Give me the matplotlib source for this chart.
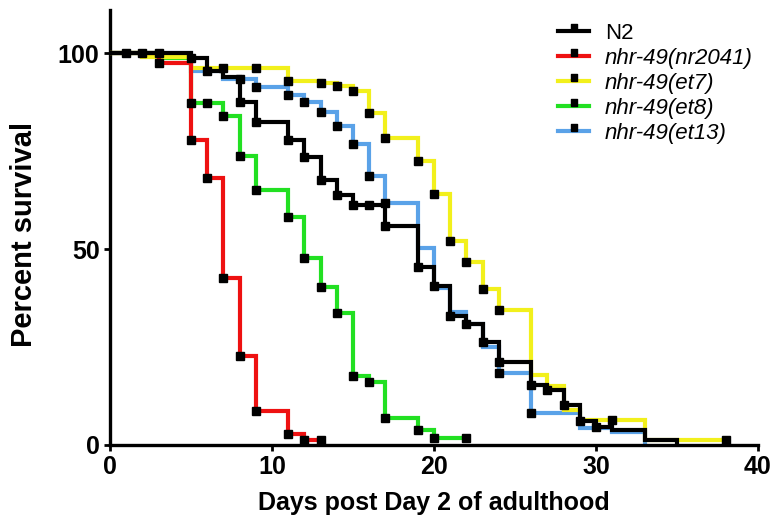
import numpy             as np
import matplotlib
matplotlib.use("Agg")
import matplotlib.pyplot as plt
from   matplotlib.lines  import Line2D
from   matplotlib.path   import Path


# ---- survival data (day, percent alive after that day) ----
labels = ["N2", "nhr-49(nr2041)", "nhr-49(et7)", "nhr-49(et8)", "nhr-49(et13)"]

n2_days   = [0, 5, 6, 7, 8, 9, 11, 12, 13, 14, 15, 17, 19, 20, 21, 22, 23, 24, 26, 27, 28, 29, 30, 31, 33, 35]
n2_surv   = [100, 98.8, 95.4, 94.0, 87.5, 82.5, 77.9, 73.5, 67.7, 63.9, 61.3, 55.8, 45.4, 40.5, 32.8, 31.0,
             26.4, 21.3, 15.3, 14.0, 10.2, 6.0, 4.7, 3.8, 1.3, 0]
n2_end    = 35
n2_cens   = [1, 2, 3, 5, 6, 8, 9, 11, 12, 13, 14, 15, 16, 17, 19, 20, 21, 22, 23, 24, 26, 27, 28, 29, 30]

nr_days   = [0, 3, 5, 6, 7, 8, 9, 11, 12]
nr_surv   = [100, 97.5, 77.8, 68.2, 42.6, 22.7, 8.6, 2.8, 1.4]
nr_end    = 13
nr_cens   = [3, 5, 6, 7, 8, 9, 11, 12, 13]

et7_days  = [0, 2, 5, 11, 13, 14, 15, 16, 17, 19, 20, 21, 22, 23, 24, 26, 27, 28, 29, 33]
et7_surv  = [100, 99.0, 96.2, 93.0, 92.3, 91.5, 90.3, 84.8, 78.4, 72.4, 64.0, 52.0, 46.6, 39.8, 34.5,
             17.9, 15.0, 8.9, 6.4, 1.3]
et7_end   = 38
et7_cens  = [7, 9, 11, 13, 14, 15, 16, 17, 19, 20, 21, 22, 23, 24, 31, 38]

et8_days  = [0, 3, 5, 7, 8, 9, 11, 12, 13, 14, 15, 16, 17, 19, 20]
et8_surv  = [100, 98.7, 87.3, 84.0, 73.7, 65.0, 58.3, 47.7, 40.4, 33.8, 17.5, 16.0, 6.8, 3.8, 1.8]
et8_end   = 22
et8_cens  = [5, 6, 7, 8, 9, 11, 12, 13, 14, 15, 16, 17, 19, 20, 22]

et13_days = [0, 5, 7, 9, 11, 12, 13, 14, 15, 16, 17, 19, 20, 21, 22, 23, 24, 26, 29, 31, 33]
et13_surv = [100, 95.5, 93.3, 91.3, 89.4, 87.5, 84.9, 81.4, 76.8, 68.7, 61.7, 50.2, 40.1, 34.0, 30.8,
             25.1, 18.3, 8.1, 4.3, 3.2, 0]
et13_end  = 33
et13_cens = [8, 9, 11, 12, 13, 14, 15, 16, 17, 24, 26]

colors = ["#000000", "#ee1111", "#f2f01c", "#22e022", "#5aa2e8"]


curves = [(n2_days, n2_surv, n2_end, n2_cens),
          (nr_days, nr_surv, nr_end, nr_cens),
          (et7_days, et7_surv, et7_end, et7_cens),
          (et8_days, et8_surv, et8_end, et8_cens),
          (et13_days, et13_surv, et13_end, et13_cens)]

plt.rcParams['font.family'] = ['Liberation Sans', 'DejaVu Sans']

fig = plt.figure(figsize=(7.77, 5.27), dpi=100)
ax  = fig.add_axes([110/777, 1 - 445/527, 648/777, 435/527])

# draw order: blue, green, yellow, red, black on top
for i in [4, 3, 2, 1, 0]:
    days, surv, end, cens = curves[i]
    x = list(days) + [end]
    y = list(surv) + [surv[-1]]
    ax.step(x, y, where='post', color=colors[i], linewidth=3.0,
            solid_joinstyle='miter', zorder=2 + (4 - i))
    idx = np.searchsorted(days, cens, side='right') - 1
    ax.plot(cens, np.array(surv)[idx], 's', color='k', markersize=5.5,
            linestyle='none', zorder=10)

ax.set_xlim(0, 40)
ax.set_ylim(0, 111)
ax.set_xticks([0, 10, 20, 30, 40])
ax.set_yticks([0, 50, 100])

for s in ['top', 'right']:
    ax.spines[s].set_visible(False)
for s in ['left', 'bottom']:
    ax.spines[s].set_linewidth(2.4)
ax.tick_params(direction='out', length=4.5, width=2.0, labelsize=18, pad=3)
for t in ax.get_xticklabels() + ax.get_yticklabels():
    t.set_fontweight('bold')

ax.set_xlabel("Days post Day 2 of adulthood", fontsize=18, fontweight='bold', labelpad=8)
ax.set_ylabel("Percent survival", fontsize=21, fontweight='bold')
ax.yaxis.set_label_coords(-0.111, 0.483)

# legend handles: line with the censor square sitting on top
box = Path([(-0.5, 0), (0.5, 0), (0.5, 1), (-0.5, 1), (-0.5, 0)])
handles = [Line2D([], [], color=c, linewidth=3.0, marker=box, markersize=10,
                  markerfacecolor='k', markeredgecolor='k') for c in colors]
leg = ax.legend(handles, labels, loc='upper left', bbox_to_anchor=(547/777, 1 - 12/527),
                bbox_transform=fig.transFigure, frameon=False, fontsize=16,
                handlelength=1.4, handletextpad=0.7, labelspacing=0.18, borderpad=0)
for k, t in enumerate(leg.get_texts()):
    if k > 0:
        t.set_fontstyle('italic')

plt.savefig("out.png", dpi=100)
